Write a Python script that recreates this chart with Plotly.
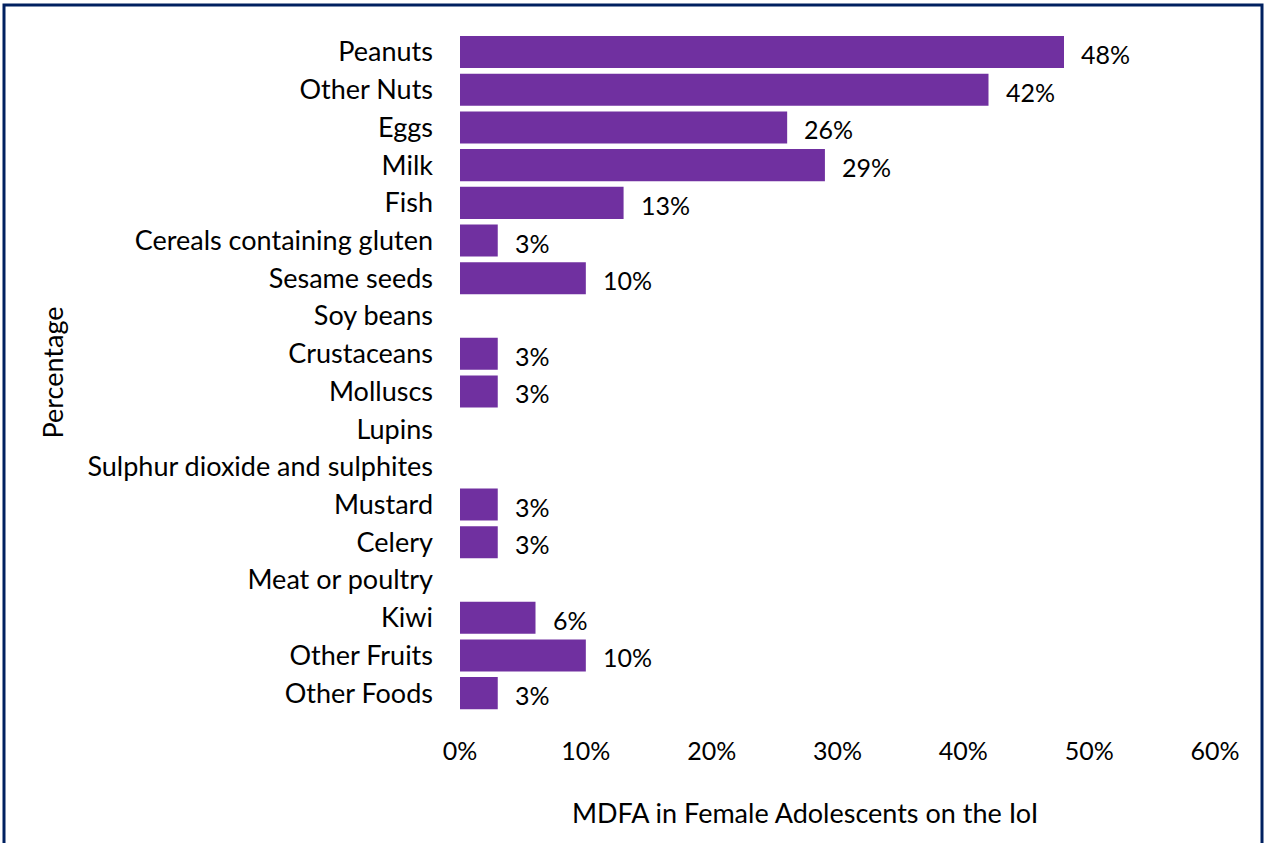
import plotly.graph_objects as go

categories = [
    "Peanuts", "Other Nuts", "Eggs", "Milk", "Fish", "Cereals containing gluten",
    "Sesame seeds", "Soy beans", "Crustaceans", "Molluscs", "Lupins",
    "Sulphur dioxide and sulphites", "Mustard", "Celery", "Meat or poultry",
    "Kiwi", "Other Fruits", "Other Foods",
]
percent = [48, 42, 26, 29, 13, 3, 10, 0, 3, 3, 0, 0, 3, 3, 0, 6, 10, 3]
x_ticks = [0, 10, 20, 30, 40, 50, 60]
x_tick_labels = ["0%", "10%", "20%", "30%", "40%", "50%", "60%"]

W, H = 1270, 843
L, R, T, B = 460, 55, 33, 131
FONT = "Lato, Carlito, Calibri, sans-serif"
FS_TEXT = 27
FS_NUM = 25

fig = go.Figure(
    go.Bar(
        y=categories,
        x=percent,
        orientation="h",
        marker=dict(color="#7030A0", line=dict(width=0)),
        hoverinfo="skip",
    )
)

# value labels placed to the right of each non-empty bar
for cat, v in zip(categories, percent):
    if v:
        fig.add_annotation(
            x=v, y=cat, text=f"{v}%", showarrow=False,
            xanchor="left", yanchor="middle", xshift=15, yshift=-2,
            font=dict(family=FONT, size=FS_NUM, color="#000000"),
        )

pw = W - L - R
ph = H - T - B

# x-axis caption, set slightly left of the plot centre
fig.add_annotation(
    xref="paper", yref="paper",
    x=(805 - L) / pw, y=-(813 - (T + ph)) / ph,
    xanchor="center", yanchor="middle", showarrow=False,
    text="MDFA in Female Adolescents on the IoI",
    font=dict(family=FONT, size=FS_TEXT, color="#000000"),
)

# outer frame around the whole figure
fig.add_shape(
    type="rect", xref="paper", yref="paper",
    x0=(4 - L) / pw, x1=(1262 - L) / pw,
    y0=-(H + 10 - T - ph) / ph, y1=1 + (T - 5) / ph,
    line=dict(color="#002060", width=3), fillcolor="rgba(0,0,0,0)",
    layer="above",
)

fig.update_layout(
    width=W, height=H,
    margin=dict(l=L, r=R, t=T, b=B, pad=0),
    paper_bgcolor="white", plot_bgcolor="white",
    bargap=0.15,
    showlegend=False,
    font=dict(family=FONT, size=FS_TEXT, color="#000000"),
    xaxis=dict(
        range=[0, 60], tickvals=x_ticks, ticktext=x_tick_labels,
        showgrid=False, zeroline=False, showline=False, ticks="",
        ticklabelstandoff=22, tickfont=dict(size=FS_NUM),
    ),
    yaxis=dict(
        autorange="reversed", showgrid=False, zeroline=False, showline=False,
        ticks="", ticklabelstandoff=26, tickfont=dict(size=FS_TEXT),
        title=dict(text="Percentage", standoff=15, font=dict(size=FS_TEXT)),
    ),
)

fig.write_html("out.html")
